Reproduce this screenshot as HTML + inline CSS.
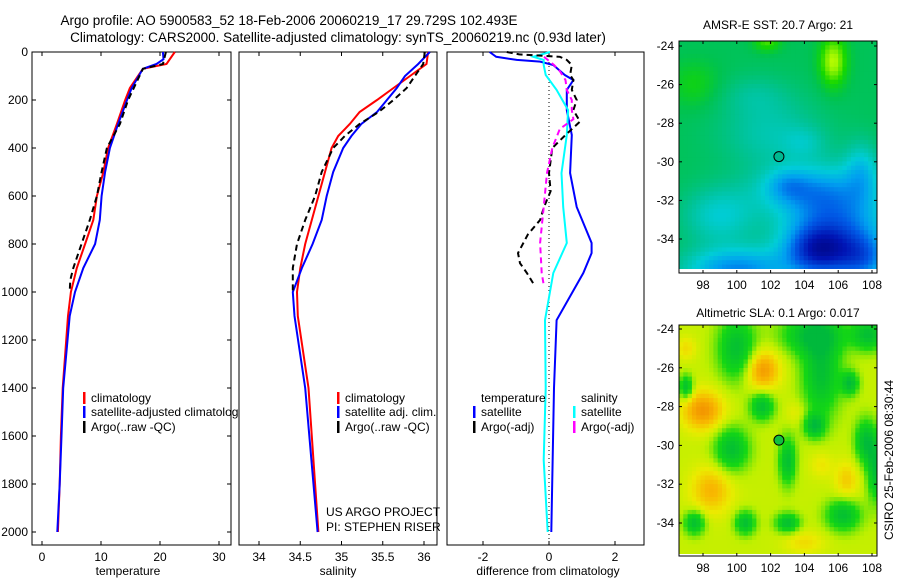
<!DOCTYPE html>
<html><head><meta charset="utf-8">
<style>
html,body{margin:0;padding:0;background:#fff;}
svg{display:block;font-family:"Liberation Sans",sans-serif;}
</style></head>
<body>
<svg id="fig" width="900" height="580" viewBox="0 0 900 580" xmlns="http://www.w3.org/2000/svg">
<defs><clipPath id="c1"><rect x="0" y="0" width="239" height="580"/></clipPath></defs>
<text x="289" y="25" font-size="13.5" text-anchor="middle">Argo profile: AO 5900583_52 18-Feb-2006 20060219_17 29.729S 102.493E</text>
<text x="338" y="42" font-size="13.5" text-anchor="middle">Climatology: CARS2000. Satellite-adjusted climatology: synTS_20060219.nc (0.93d later)</text>
<text x="128" y="575" font-size="12" text-anchor="middle">temperature</text>
<text x="338" y="575" font-size="12" text-anchor="middle">salinity</text>
<text x="548" y="575" font-size="12" text-anchor="middle">difference from climatology</text>
<text x="778" y="29" font-size="12" text-anchor="middle">AMSR-E SST: 20.7 Argo: 21</text>
<text x="778" y="317" font-size="12" text-anchor="middle">Altimetric SLA: 0.1 Argo: 0.017</text>
<text transform="translate(893,460) rotate(-90)" font-size="12" text-anchor="middle">CSIRO 25-Feb-2006 08:30:44</text>
<g id="layer"></g>
<g clip-path="url(#c1)" id="clipLayer"></g>
<text x="326" y="516" font-size="12">US ARGO PROJECT</text>
<text x="326" y="531" font-size="12">PI: STEPHEN RISER</text>
</svg>
<script>
// ---------- data ----------
const depthTicks = [0,200,400,600,800,1000,1200,1400,1600,1800,2000];
const tempTicks = [0,10,20,30];
const salTicks = [34,34.5,35,35.5,36];
const diffTicks = [-2,0,2];
const diffTickLabels = ["-2","0","2"];

const tClimDepth = [0,50,70,150,200,300,400,500,600,700,800,900,1000,1100,1400,1600,1800,2000];
const tClim      = [22.5,21.1,17.1,14.9,14.1,12.7,11.2,10.4,9.3,8.7,7.3,5.9,4.9,4.4,3.5,3.2,3.0,2.7];
const tSatDepth  = [0,30,50,70,150,200,300,400,500,600,700,800,900,1000,1100,1400,1600,1800,2000];
const tSat       = [20.5,20.6,19.4,17.1,15.2,14.4,12.9,11.5,10.7,10.1,9.8,9.0,7.0,5.6,4.7,3.6,3.3,3.0,2.6];
const tArgoDepth = [0,50,70,200,300,400,500,600,700,800,900,950,1000];
const tArgo      = [21.0,20.5,17.1,14.6,13.2,11.0,10.1,9.3,8.1,6.7,5.3,4.8,4.7];

const sClimDepth = [0,50,100,150,200,250,300,350,400,500,600,700,800,900,1000,1100,1400,2000];
const sClim      = [36.05,36.03,35.83,35.63,35.43,35.22,35.10,34.96,34.88,34.80,34.72,34.64,34.56,34.50,34.46,34.47,34.60,34.72];
const sSatDepth  = [0,50,100,150,200,250,300,350,400,500,600,700,800,900,1000,1100,1400,2000];
const sSat       = [36.07,35.93,35.77,35.67,35.55,35.43,35.24,35.12,35.02,34.90,34.82,34.76,34.65,34.52,34.41,34.43,34.56,34.71];
const sArgoDepth = [0,50,100,150,200,250,300,350,400,500,600,700,800,900,1000];
const sArgo      = [36.01,35.99,35.89,35.79,35.63,35.45,35.22,35.04,34.90,34.76,34.68,34.56,34.46,34.41,34.41];

const dTSatDepth = [0,20,33,40,54,96,117,158,242,346,504,646,796,838,921,1117,1400,2000];
const dTSat      = [-1.8,-1.6,-0.98,-0.27,0.13,0.48,0.74,0.54,0.54,0.69,0.64,0.84,1.29,1.29,1.04,0.23,0.15,0.07];
const dSSatDepth = [0,20,33,54,96,158,242,346,504,646,796,921,1117,1400,1700,2000];
const dSSat      = [0.03,-0.48,-0.16,-0.16,-0.1,0.23,0.58,0.54,0.38,0.43,0.54,0.13,-0.12,-0.1,-0.16,-0.04];
const dTArgoDepth= [0,10,20,33,54,96,117,158,200,242,290,346,400,504,580,646,700,760,838,880,921,970];
const dTArgo     = [-1.28,-0.9,0.33,0.54,0.69,0.64,0.74,0.69,0.84,0.74,0.94,0.5,0.1,0.0,0.05,-0.15,-0.27,-0.64,-0.94,-0.88,-0.67,-0.45];
const dSArgoDepth= [20,54,80,117,158,200,242,280,320,400,504,646,796,921,970];
const dSArgo     = [-0.15,0.15,0.33,0.5,0.54,0.69,0.69,0.74,0.33,0.1,-0.06,-0.16,-0.27,-0.22,-0.16];

const mapLonTicks = [98,100,102,104,106,108];
const mapLatTicks = [-24,-26,-28,-30,-32,-34];
const argoLon = 102.493, argoLat = -29.729;

// ---------- helpers ----------
const NS="http://www.w3.org/2000/svg";
const layer=document.getElementById('layer');
const clipLayer=document.getElementById('clipLayer');
function mk(tag,attrs,parent){const e=document.createElementNS(NS,tag);for(const k in attrs)e.setAttribute(k,attrs[k]);(parent||layer).appendChild(e);return e;}
const Y0=52, PXM=0.24;
function yD(d){return Y0+d*PXM;}
const AX_TOP=52, AX_BOT=545;

const panels=[
 {name:'temperature-panel',x0:32,x1:231,f:v=>42+5.9*v,ticks:tempTicks,labels:tempTicks.map(String)},
 {name:'salinity-panel',x0:239,x1:437,f:v=>259+82.5*(v-34),ticks:salTicks,labels:salTicks.map(String)},
 {name:'difference-panel',x0:447,x1:644,f:v=>549+33*v,ticks:diffTicks,labels:diffTickLabels}
];
panels.forEach((p,i)=>{
  const g=mk('g',{});
  
  
  const r=mk('rect',{x:p.x0,y:AX_TOP,width:p.x1-p.x0,height:AX_BOT-AX_TOP,fill:'#fff',stroke:'#000','stroke-width':1},g);
  
  
  p.ticks.forEach((t,j)=>{
    const x=p.f(t);
    mk('line',{x1:x,x2:x,y1:AX_BOT,y2:AX_BOT-4,stroke:'#000'},g);
    mk('line',{x1:x,x2:x,y1:AX_TOP,y2:AX_TOP+4,stroke:'#000'},g);
    const tl=mk('text',{x:x,y:AX_BOT+16,'font-size':12,'text-anchor':'middle'},g);
    tl.textContent=p.labels[j];
    
    
  });
  if(i===0){
    depthTicks.forEach(d=>{
      const y=yD(d);
      mk('line',{x1:p.x0,x2:p.x0+4,y1:y,y2:y,stroke:'#000'},g);
      mk('line',{x1:p.x1,x2:p.x1-4,y1:y,y2:y,stroke:'#000'},g);
      const tl=mk('text',{x:p.x0-4,y:y+4,'font-size':12,'text-anchor':'end'},g);
      tl.textContent=String(d);
      
      
    });
  }
});
const zl=mk('line',{x1:panels[2].f(0),x2:panels[2].f(0),y1:AX_TOP+10,y2:AX_BOT,stroke:'#000','stroke-dasharray':'1,3'});



function series(p,vals,depths,color,name,dash){
  const pts=vals.map((v,i)=>p.f(v).toFixed(1)+','+yD(depths[i]).toFixed(1)).join(' ');
  const a={points:pts,fill:'none',stroke:color,'stroke-width':2};
  if(dash)a['stroke-dasharray']=dash;
  const pl=mk('polyline',a);
  
  
}
series(panels[0],tClim,tClimDepth,'#ff0000','temp-climatology-line');
series(panels[0],tSat,tSatDepth,'#0000ff','temp-satellite-line');
series(panels[0],tArgo,tArgoDepth,'#000','temp-argo-line','6,4');
series(panels[1],sClim,sClimDepth,'#ff0000','sal-climatology-line');
series(panels[1],sSat,sSatDepth,'#0000ff','sal-satellite-line');
series(panels[1],sArgo,sArgoDepth,'#000','sal-argo-line','6,4');
series(panels[2],dTSat,dTSatDepth,'#0000ff','diff-temp-satellite-line');
series(panels[2],dSSat,dSSatDepth,'#00ffff','diff-sal-satellite-line');
series(panels[2],dTArgo,dTArgoDepth,'#000','diff-temp-argo-line','6,4');
series(panels[2],dSArgo,dSArgoDepth,'#ff00ff','diff-sal-argo-line','6,4');

function legend(x,y,color,label,name,parent){
  const g=mk('g',{},parent);
  
  
  if(color) mk('rect',{x:x,y:y-10,width:2.5,height:12,fill:color},g);
  const t=mk('text',{x:x+8,y:y,'font-size':12},g);
  t.textContent=label;
}
legend(83,402,'#ff0000','climatology','legend-entry-climatology',clipLayer);
legend(83,416,'#0000ff','satellite-adjusted climatology','legend-entry-satellite-adjusted',clipLayer);
legend(83,431,'#000','Argo(..raw -QC)','legend-entry-argo',clipLayer);
legend(337,402,'#ff0000','climatology','legend-entry-climatology');
legend(337,416,'#0000ff','satellite adj. clim.','legend-entry-satellite-adj');
legend(337,431,'#000','Argo(..raw -QC)','legend-entry-argo');
legend(473,402,null,'temperature','legend-header-temperature');
legend(473,416,'#0000ff','satellite','legend-entry-temp-satellite');
legend(473,431,'#000','Argo(-adj)','legend-entry-temp-argo');
legend(573,402,null,'salinity','legend-header-salinity');
legend(573,416,'#00ffff','satellite','legend-entry-sal-satellite');
legend(573,431,'#ff00ff','Argo(-adj)','legend-entry-sal-argo');

// ---------- maps ----------
function g2(lon,lat,cx,cy,sx,sy){const a=(lon-cx)/sx,b=(lat-cy)/sy;return Math.exp(-(a*a+b*b));}
function lerpCmap(stops,v){
  v=Math.max(0,Math.min(1,v));
  for(let i=1;i<stops.length;i++){if(v<=stops[i][0]){const s0=stops[i-1],s1=stops[i];const t=(v-s0[0])/(s1[0]-s0[0]);
    return 'rgb('+[0,1,2].map(k=>Math.round(s0[1][k]+(s1[1][k]-s0[1][k])*t)).join(',')+')';}}
  const l=stops[stops.length-1][1];return 'rgb('+l.join(',')+')';
}
const sstStops=[[0,[0,0,110]],[0.15,[0,20,180]],[0.3,[0,90,230]],[0.4,[0,160,240]],[0.5,[0,205,215]],[0.58,[0,195,150]],[0.66,[0,195,80]],[0.74,[20,215,0]],[0.86,[200,255,0]]];
const slaStops=[[0,[0,185,60]],[0.3,[20,215,20]],[0.5,[190,240,0]],[0.62,[235,235,0]],[0.78,[248,185,0]],[1,[240,130,0]]];
function sstField(lon,lat){
  return 0.65 +0.2*g2(lon,lat,105.7,-24.8,0.8,1.3)+0.12*g2(lon,lat,101.8,-23.8,0.8,0.5)+0.07*g2(lon,lat,97.5,-26,1.5,1.2)
   -0.1*g2(lon,lat,102,-28.5,3,2)-0.06*g2(lon,lat,104,-29,1.2,0.8)-0.05*g2(lon,lat,101,-26.5,2,1)
   -0.15*g2(lon,lat,104,-31.5,3,1.2)
   -0.32*g2(lon,lat,105.8,-33.5,3,2.6)-0.3*g2(lon,lat,104.8,-34.6,1.8,1.2)-0.2*g2(lon,lat,107.5,-35,1.5,1.2)
   -0.28*g2(lon,lat,100,-35.6,3,1.1)-0.14*g2(lon,lat,99,-32.8,2.2,1.5)-0.14*g2(lon,lat,107.4,-30.5,1,1.5)-0.1*g2(lon,lat,103,-31.2,1.2,0.8);
}
function slaField(lon,lat){
  let v=0.52;
  const greens=[[100,-25,1.1,1.6],[105,-26.3,1.1,2.2],[104.5,-24.3,1.8,1],[107.8,-24.3,1,0.8],[99.7,-30.2,1,1.1],[101.5,-28,0.7,0.7],[103,-30.8,0.5,1.2],[104.6,-29,0.6,0.6],[107.6,-29.8,0.6,1.1],[108.2,-31.2,0.5,1.6],[106.3,-33.6,1,0.8],[97.5,-34,0.6,0.6],[100.5,-34,0.6,0.6],[103,-34,0.7,0.5],[97,-27,0.4,0.6],[106.7,-26.8,0.5,0.6]];
  greens.forEach(b=>v-=0.45*g2(lon,lat,b[0],b[1],b[2],b[3]));
  const oranges=[[101.5,-26.1,1,1,0.4],[98,-28.2,1.2,1,0.4],[98.5,-32.3,1.2,1.2,0.28],[106.5,-31.8,0.7,1,0.2],[97,-25,0.6,0.6,0.15],[104,-35,1.2,0.6,0.15],[103.5,-28.3,0.6,0.6,0.1],[105,-31,0.7,0.7,0.12]];
  oranges.forEach(b=>v+=b[4]*g2(lon,lat,b[0],b[1],b[2],b[3]));
  return v;
}
function drawMap(name,x0,x1,yTop,yBot,latPx,lat24y,field,stops,dataBot,circFill){
  const g=mk('g',{});
  
  
  const lonPx=16.9, lon98x=703;
  const lonAt=x=>98+(x-lon98x)/lonPx, latAt=y=>-24-(y-lat24y)/latPx;
  const cell=4.3;
  for(let y=yTop;y<dataBot;y+=cell){for(let x=x0;x<x1;x+=cell){
    const lon=lonAt(x+cell/2),lat=latAt(y+cell/2);
    mk('rect',{x:x.toFixed(1),y:y.toFixed(1),width:Math.min(cell+0.4,x1-x).toFixed(1),height:Math.min(cell+0.4,dataBot-y).toFixed(1),fill:lerpCmap(stops,field(lon,lat))},g);
  }}
  mk('rect',{x:x0,y:yTop,width:x1-x0,height:yBot-yTop,fill:'none',stroke:'#000'},g);
  mapLonTicks.forEach(l=>{const x=lon98x+(l-98)*lonPx;
    mk('line',{x1:x,x2:x,y1:yBot,y2:yBot-3,stroke:'#000'},g);mk('line',{x1:x,x2:x,y1:yTop,y2:yTop+3,stroke:'#000'},g);
    const t=mk('text',{x:x,y:yBot+16,'font-size':12,'text-anchor':'middle'},g);t.textContent=String(l);
    
    
  });
  mapLatTicks.forEach(l=>{const y=lat24y+(-24-l)*latPx;
    mk('line',{x1:x0,x2:x0+3,y1:y,y2:y,stroke:'#000'},g);mk('line',{x1:x1,x2:x1-3,y1:y,y2:y,stroke:'#000'},g);
    const t=mk('text',{x:x0-5,y:y+4,'font-size':12,'text-anchor':'end'},g);t.textContent=String(l);
    
    
  });
  const c=mk('circle',{cx:lon98x+(argoLon-98)*lonPx,cy:lat24y+(-24-argoLat)*latPx,r:5,fill:circFill,stroke:'#000'},g);
  
  
}
drawMap('sst-map',679,877,41,273,19.3,46,sstField,sstStops,269,'#00b890');
drawMap('sla-map',679,877,325,556,19.4,329,slaField,slaStops,554,'#10c040');
</script>
</body></html>
